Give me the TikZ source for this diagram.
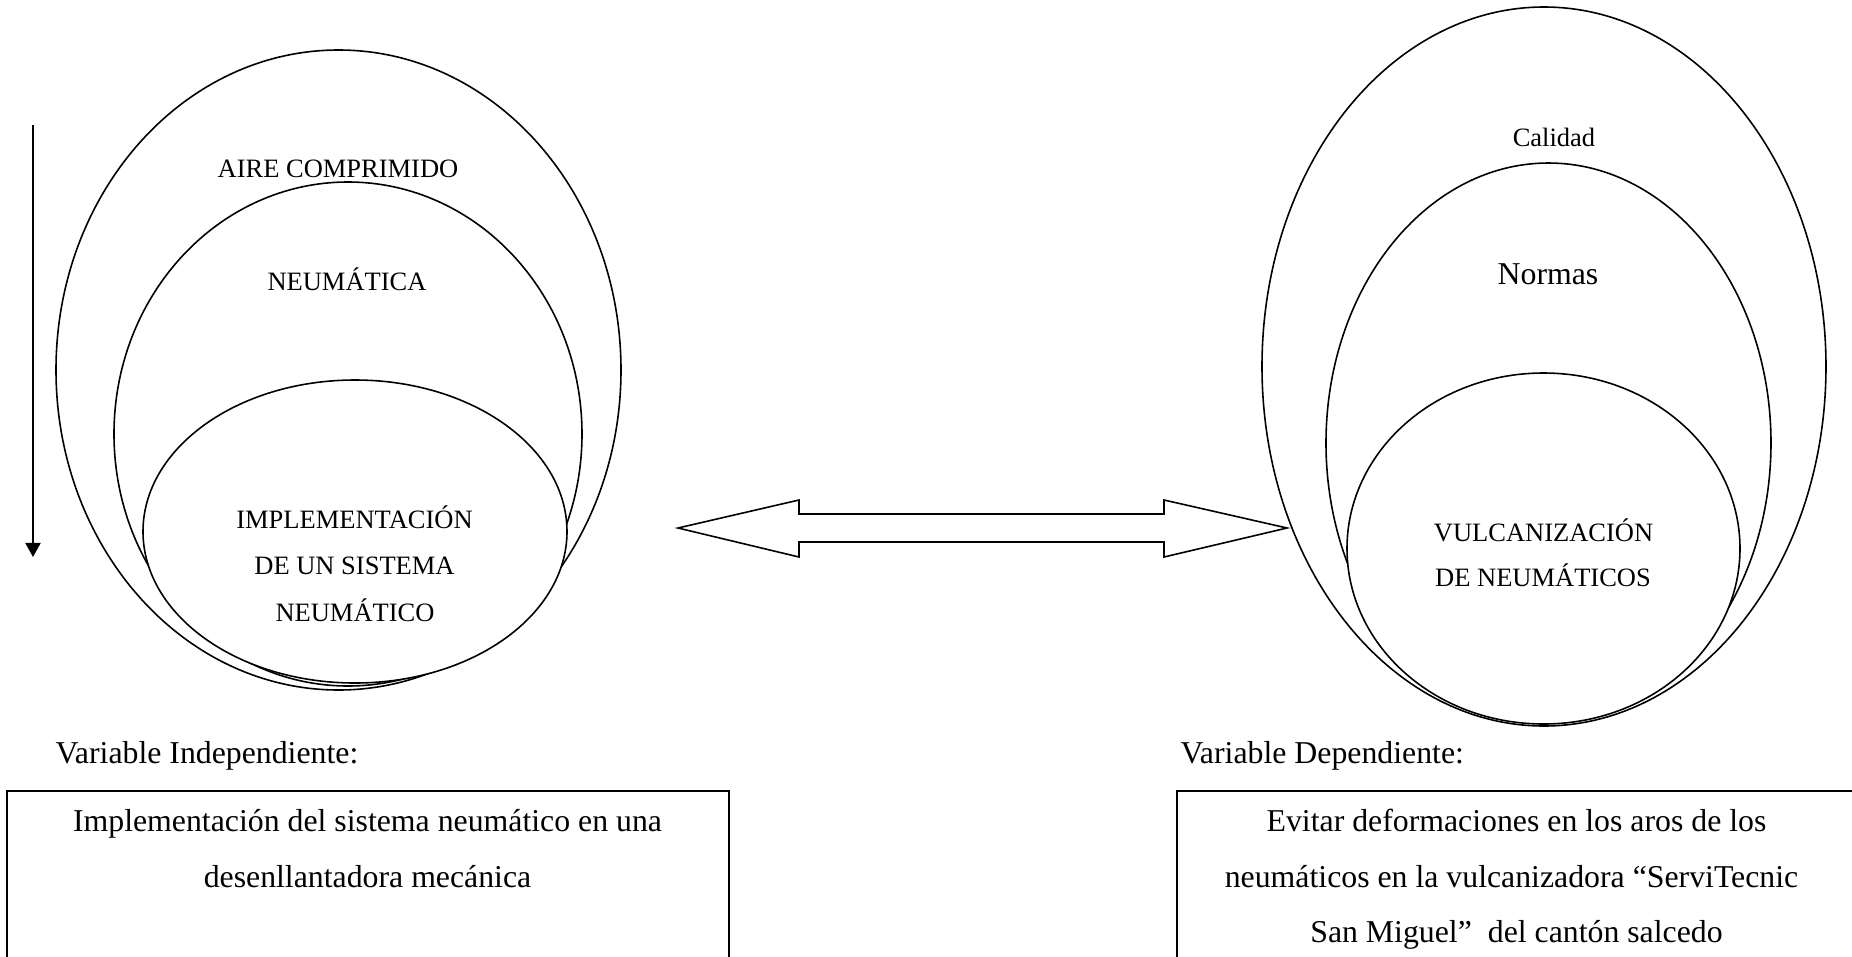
\documentclass[tikz,border=0pt]{standalone}
\usepackage{fontspec}
\setmainfont{Liberation Serif}
\usetikzlibrary{arrows.meta}
\tikzset{
  ring/.style={draw=black, fill=white, line width=0.6pt},
  varbox/.style={draw=black, line width=0.7pt},
  bigarrow/.style={draw=black, fill=white, line width=0.6pt, line join=miter},
  downarrow/.style={draw=black, line width=0.65pt, -{Triangle[width=5.7pt,length=5.3pt]}},
  lbl/.style={inner sep=0pt, anchor=base, font=\fontsize{10pt}{12pt}\selectfont},
  lblbig/.style={inner sep=0pt, anchor=base, font=\fontsize{12pt}{14pt}\selectfont},
  boxtxt/.style={inner sep=0pt, anchor=base, font=\fontsize{12pt}{14pt}\selectfont},
  caption/.style={inner sep=0pt, anchor=base west, font=\fontsize{12pt}{14pt}\selectfont}
}
\begin{document}
\begin{tikzpicture}[x=0.3774pt, y=-0.3774pt]
\useasboundingbox (0,0) rectangle (1852,957);
\clip (0,0) rectangle (1852,957);

% ---- left group of ellipses ----
\path[ring] (338.5,370) ellipse [x radius=282.5, y radius=320];
\path[ring] (348,434) ellipse [x radius=234, y radius=252];
\path[ring] (355,531.5) ellipse [x radius=212, y radius=151.5];

\node[lbl] (aire) at (338,177) {AIRE COMPRIMIDO};
\node[lbl] (neum) at (347,290) {NEUMÁTICA};
\node[lbl] (impl1) at (354.5,528) {IMPLEMENTACIÓN};
\node[lbl] (impl2) at (354.5,574) {DE UN SISTEMA};
\node[lbl] (impl3) at (355,621) {NEUMÁTICO};

% ---- vertical arrow ----
\coordinate (vtop) at (33,125);
\coordinate (vbot) at (33,557);
\draw[downarrow] (vtop) -- (vbot);

% ---- right group of ellipses ----
\path[ring] (1544,366.5) ellipse [x radius=282, y radius=359.5];
\path[ring] (1548.5,443) ellipse [x radius=222.5, y radius=280];
\path[ring] (1543.5,548.5) ellipse [x radius=196.5, y radius=175.5];

\node[lbl] (calidad) at (1554,146) {Calidad};
\node[lblbig] (normas) at (1548,284) {Normas};
\node[lbl] (vulc1) at (1543.6,541) {VULCANIZACIÓN};
\node[lbl] (vulc2) at (1543,586) {DE NEUMÁTICOS};

% ---- double arrow ----
\coordinate (ltip) at (678,528);
\coordinate (rtip) at (1287,528);
\draw[bigarrow] (ltip) -- (799,500) -- (799,514) -- (1164,514) -- (1164,500)
  -- (rtip) -- (1164,557) -- (1164,542) -- (799,542) -- (799,557) -- cycle;

% ---- captions ----
\node[caption] (vi) at (55,763) {Variable Independiente:};
\node[caption] (vd) at (1180,763) {Variable Dependiente:};

% ---- boxes ----
\draw[varbox] (7,1000) -- (7,791) -- (729,791) -- (729,1000);
\draw[varbox] (1177,1000) -- (1177,791) -- (1870,791) -- (1870,1000);

\node[boxtxt] (li1) at (367.5,831) {Implementación del sistema neumático en una};
\node[boxtxt] (li2) at (367.5,887) {desenllantadora mecánica};

\node[boxtxt] (ri1) at (1516.5,831) {Evitar deformaciones en los aros de los};
\node[boxtxt] (ri2) at (1511.5,887) {neumáticos en la vulcanizadora “ServiTecnic};
\node[boxtxt] (ri3) at (1516.5,942) {San Miguel”~ del cantón salcedo};
\end{tikzpicture}
\end{document}
